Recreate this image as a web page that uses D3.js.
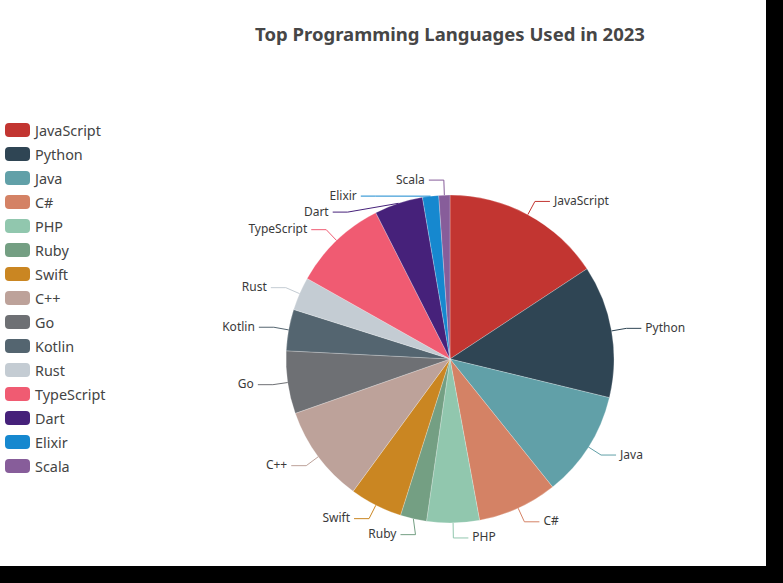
<!DOCTYPE html>
<html>
<head>
<meta charset="utf-8">
<script src="https://cdn.jsdelivr.net/npm/d3@7"></script>
<style>
  html, body { margin: 0; padding: 0; background: #000; }
  svg { display: block; }
  text { font-family: "Noto Sans", "Open Sans", sans-serif; }
</style>
</head>
<body>
<div id="chart"></div>
<script>
const chartTitle = "Top Programming Languages Used in 2023";
const categories = ["JavaScript", "Python", "Java", "C#", "PHP", "Ruby", "Swift", "C++", "Go", "Kotlin", "Rust", "TypeScript", "Dart", "Elixir", "Scala"];
const values = [15.8, 13.1, 10.5, 7.9, 5.2, 2.6, 5.2, 9.6, 6.2, 4.1, 3.3, 9.4, 4.8, 1.6, 1.1];
const colors = ["#c23531", "#2f4554", "#61a0a8", "#d48265", "#91c7ae", "#749f83", "#ca8622", "#bda29a", "#6e7074", "#546570", "#c4ccd3", "#f05b72", "#46217a", "#1688cf", "#875d9a"];

const W = 766, H = 566;
const cx = 450, cy = 359, R = 164;
const len1 = 15, len2 = 15;

const svg = d3.select("#chart").append("svg").attr("width", W).attr("height", H);
svg.append("rect").attr("width", W).attr("height", H).attr("fill", "#fff");

svg.append("text")
  .attr("x", cx).attr("y", 33)
  .attr("text-anchor", "middle").attr("dominant-baseline", "central")
  .attr("font-size", 18.5).attr("font-weight", "bold").attr("fill", "#464646")
  .text(chartTitle);

const data = categories.map((c, i) => ({ name: c, value: values[i], color: colors[i] }));
const pie = d3.pie().sort(null).value(d => d.value);
const arcs = pie(data);
const arcGen = d3.arc().innerRadius(0).outerRadius(R);

const g = svg.append("g").attr("transform", `translate(${cx},${cy})`);
g.selectAll("path.slice").data(arcs).join("path")
  .attr("class", "slice")
  .attr("d", arcGen)
  .attr("fill", d => d.data.color)
  .attr("stroke", "#fff").attr("stroke-width", 0.4).attr("stroke-opacity", 0.6);

// label layout (ECharts-like)
const items = arcs.map(a => {
  const mid = (a.startAngle + a.endAngle) / 2;
  const s = Math.sin(mid), c = Math.cos(mid);
  return {
    d: a, s, c,
    side: s >= 0 ? 1 : -1,
    p1: [cx + R * s, cy - R * c],
    y: cy - (R + len1) * c
  };
});
const minGap = 16;
[1, -1].forEach(side => {
  const list = items.filter(it => it.side === side).sort((a, b) => a.y - b.y);
  for (let i = 1; i < list.length; i++) {
    if (list[i].y - list[i - 1].y < minGap) list[i].y = list[i - 1].y + minGap;
  }
});
const rA = R + len1;
items.forEach(it => {
  const dy = Math.abs(it.y - cy);
  const dx = dy < rA ? Math.sqrt(rA * rA - dy * dy) : 0;
  it.p2 = [cx + it.side * dx, it.y];
  it.p3 = [it.p2[0] + it.side * len2, it.y];
});

svg.selectAll("polyline.ll").data(items).join("polyline")
  .attr("class", "ll")
  .attr("points", it => [it.p1, it.p2, it.p3].map(p => p.join(",")).join(" "))
  .attr("fill", "none").attr("stroke", it => it.d.data.color).attr("stroke-width", 1);

svg.selectAll("text.lbl").data(items).join("text")
  .attr("class", "lbl")
  .attr("x", it => it.p3[0] + it.side * 4)
  .attr("y", it => it.y - 1)
  .attr("text-anchor", it => it.side > 0 ? "start" : "end")
  .attr("dominant-baseline", "central")
  .attr("font-size", 12).attr("fill", "#3a3a3a")
  .text(it => it.d.data.name);

// legend
const leg = svg.append("g");
const li = leg.selectAll("g").data(data).join("g")
  .attr("transform", (d, i) => `translate(5,${130 + i * 24})`);
li.append("rect").attr("x", 0).attr("y", -7).attr("width", 25).attr("height", 14).attr("rx", 4)
  .attr("fill", d => d.color);
li.append("text").attr("x", 30).attr("y", 0).attr("dominant-baseline", "central")
  .attr("font-size", 14.4).attr("fill", "#444").text(d => d.name);
</script>
</body>
</html>
